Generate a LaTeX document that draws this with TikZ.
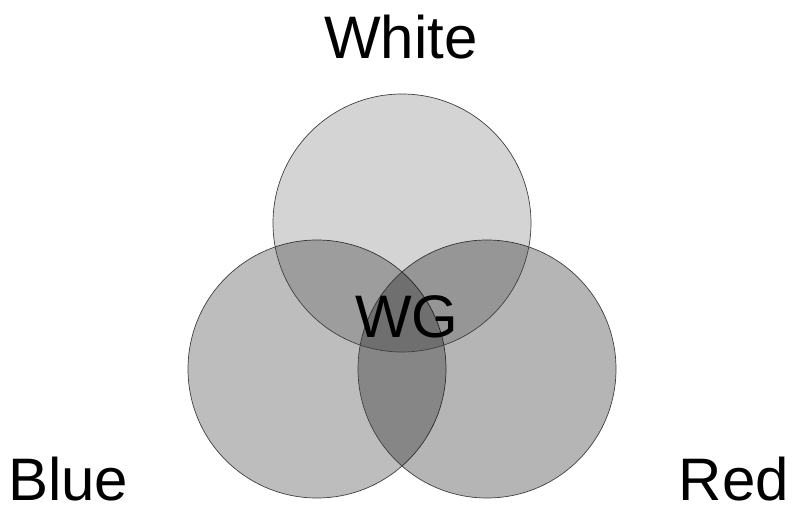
\documentclass[tikz,border=0pt]{standalone}
\usepackage{fontspec}
\setmainfont{Liberation Sans}
\usetikzlibrary{positioning}

\begin{document}
\begin{tikzpicture}[
    x=1pt, y=-1pt,
    vennset/.style={circle, draw=black!75, line width=0.7pt, fill=black, inner sep=0pt, outer sep=0pt, minimum size=258pt},
    setname/.style={font=\fontsize{60}{72}\selectfont, inner sep=0pt, text depth=0pt}
]
\useasboundingbox (0,0) rectangle (792,505);

% Sets
\node[vennset, fill opacity=0.26] (blueset) at (317,369) {};
\node[vennset, fill opacity=0.29] (redset) at (487,369) {};
\node[vennset, fill opacity=0.17] (whiteset) at (402,223) {};

% Set names
\node[setname, anchor=base] (white) at (401,59) {White};
\node[setname, anchor=base west] (blue) at (8,500) {Blue};
\node[setname, anchor=base east] (red) at (789,500) {Red};

% Common part
\node[setname, anchor=base] (wg) at (407,337) {WG};

\end{tikzpicture}
\end{document}
